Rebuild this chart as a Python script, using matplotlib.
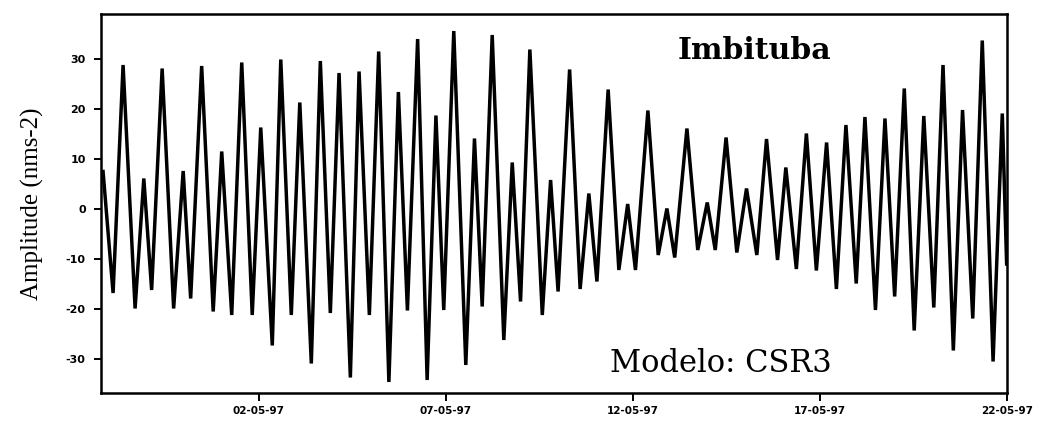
import matplotlib
matplotlib.use("Agg")
import matplotlib.pyplot as plt

# time in days relative to 02-05-97 00:00, amplitude in nm/s^2 (successive extrema)
t_days = [-4.155, -3.887, -3.620, -3.299, -3.066, -2.857, -2.576, -2.269, -2.014, -1.814,
          -1.520, -1.212, -0.984, -0.717, -0.449, -0.169, 0.059, 0.367, 0.594, 0.875,
          1.102, 1.410, 1.651, 1.918, 2.151, 2.453, 2.686, 2.961, 3.210, 3.483,
          3.737, 3.978, 4.251, 4.505, 4.740, 4.949, 5.217, 5.538, 5.770, 5.976,
          6.244, 6.554, 6.779, 7.001, 7.250, 7.582, 7.804, 8.004, 8.312, 8.593,
          8.826, 9.042, 9.342, 9.628, 9.864, 10.072, 10.404, 10.680, 10.912, 11.121,
          11.447, 11.736, 11.990, 12.204, 12.493, 12.780, 13.039, 13.315, 13.574, 13.868,
          14.090, 14.371, 14.639, 14.906, 15.179, 15.441, 15.696, 15.971, 16.204, 16.485,
          16.739, 16.998, 17.255, 17.520, 17.777, 18.044, 18.290, 18.566, 18.812, 19.085,
          19.339, 19.628, 19.874, 19.990]
amplitude = [7.5, -16.8, 28.8, -19.9, 6.1, -16.2, 28.1, -19.9, 7.6, -17.9,
             28.6, -20.5, 11.5, -21.2, 29.3, -21.2, 16.3, -27.3, 29.9, -21.2,
             21.3, -30.9, 29.6, -20.8, 27.2, -33.7, 27.5, -21.2, 31.5, -34.6,
             23.4, -20.3, 34.0, -34.2, 18.7, -20.2, 35.6, -31.2, 14.1, -19.5,
             34.8, -26.2, 9.3, -18.5, 31.9, -21.2, 5.8, -16.5, 27.9, -16.0,
             3.1, -14.5, 23.9, -12.2, 1.0, -12.2, 19.7, -9.2, 0.1, -9.7,
             16.1, -8.2, 1.3, -8.2, 14.3, -8.7, 4.1, -9.2, 14.0, -10.2,
             8.3, -12.0, 15.1, -12.3, 13.3, -16.0, 16.8, -14.9, 18.4, -20.2,
             18.1, -17.5, 24.1, -24.3, 18.6, -19.7, 28.8, -28.3, 19.8, -21.9,
             33.7, -30.5, 19.1, -11.0]

x_ticks = [0, 5, 10, 15, 20]
x_tick_labels = ["02-05-97", "07-05-97", "12-05-97", "17-05-97", "22-05-97"]
y_ticks = [-30, -20, -10, 0, 10, 20, 30]
y_tick_labels = ["-30", "-20", "-10", "0", "10", "20", "30"]

fig = plt.figure(figsize=(10.45, 4.23), dpi=100)
ax = fig.add_axes([101/1045, 1 - 393/423, 906/1045, 379/423])
ax.plot(t_days, amplitude, color="black", lw=2.5, solid_joinstyle="miter")

ax.set_xlim(-4.21, 20.0)
ax.set_ylim(-36.8, 39.0)
ax.set_xticks(x_ticks)
ax.set_xticklabels(x_tick_labels, fontsize=7.5, fontweight="bold", family="DejaVu Sans")
ax.set_yticks(y_ticks)
ax.set_yticklabels(y_tick_labels, fontsize=8, fontweight="bold", family="DejaVu Sans")
ax.tick_params(axis="x", direction="out", length=6, width=1.4, color="black", pad=3)
ax.tick_params(axis="y", direction="out", length=5, width=1.4, color="black", pad=6)
for s in ax.spines.values():
    s.set_linewidth(1.8)
    s.set_color("black")

ax.set_ylabel("Amplitude (nms-2)", fontsize=18, family="Liberation Serif", labelpad=16)

ax.text(0.721, 0.905, "Imbituba", transform=ax.transAxes, ha="center", va="center",
        fontsize=21.5, fontweight="bold", family="DejaVu Serif")
ax.text(0.684, 0.079, "Modelo: CSR3", transform=ax.transAxes, ha="center", va="center",
        fontsize=22, family="DejaVu Serif")

fig.savefig("out.png", dpi=100)
